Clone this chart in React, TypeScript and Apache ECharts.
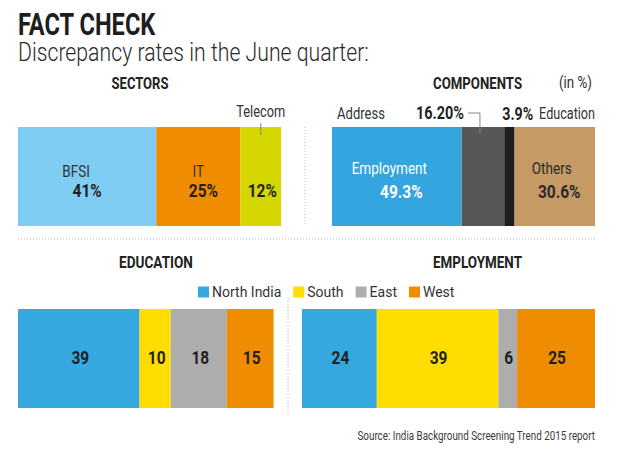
import React, { useEffect, useRef } from 'react';
import * as echarts from 'echarts';

const sectorNames = ['BFSI', 'IT', 'Telecom'];
const sectorValues = [41, 25, 12];
const componentNames = ['Employment', 'Address', 'Education', 'Others'];
const componentValues = [49.3, 16.2, 3.9, 30.6];
const componentLabels = ['49.3%', '16.20%', '3.9%', '30.6%'];
const regionNames = ['North India', 'South', 'East', 'West'];
const educationValues = [39, 10, 18, 15];
const employmentValues = [24, 39, 6, 25];

const sectorColors = ['#7fcdf3', '#f08c00', '#d5d800'];
const componentColors = ['#34a5de', '#575757', '#1e1e1e', '#c59a65'];
const regionColors = ['#35a8e0', '#ffdd00', '#adadad', '#f08c00'];

const FONT = 'Roboto, "Liberation Sans", sans-serif';

export default function App() {
  const ref = useRef<HTMLDivElement>(null);
  useEffect(() => {
    document.body.style.margin = '0';
    const chart = echarts.init(ref.current!, null, { renderer: 'svg' });
    const ctx = document.createElement('canvas').getContext('2d')!;
    const measure = (t: string, size: number, weight: string) => {
      ctx.font = `${weight} ${size}px Roboto`;
      return ctx.measureText(t).width || 1;
    };

    const barH = 99;
    const grids = [
      { left: 18, top: 127, width: 263, height: barH },
      { left: 332, top: 127, width: 263, height: barH },
      { left: 18, top: 309, width: 293, height: barH },
      { left: 302, top: 309, width: 293, height: barH },
    ];
    const maxes = [78, 100, 94, 94];
    const xAxis = grids.map((_, i) => ({ type: 'value', gridIndex: i, min: 0, max: maxes[i], show: false }));
    const yAxis = grids.map((_, i) => ({ type: 'category', gridIndex: i, data: ['x'], show: false }));

    const series: any[] = [];
    sectorNames.forEach((n, i) => {
      series.push({
        type: 'bar', name: n, stack: 'sec', xAxisIndex: 0, yAxisIndex: 0, silent: true,
        barWidth: barH, data: [sectorValues[i]], itemStyle: { color: sectorColors[i] },
      });
    });
    componentNames.forEach((n, i) => {
      series.push({
        type: 'bar', name: n, stack: 'comp', xAxisIndex: 1, yAxisIndex: 1, silent: true,
        barWidth: barH, data: [componentValues[i]], itemStyle: { color: componentColors[i] },
      });
    });
    [educationValues, employmentValues].forEach((vals, g) => {
      regionNames.forEach((n, i) => {
        series.push({
          type: 'bar', name: n, stack: 'reg' + g, xAxisIndex: 2 + g, yAxisIndex: 2 + g, silent: true,
          barWidth: barH, data: [vals[i]], itemStyle: { color: regionColors[i] },
        });
      });
    });

    chart.setOption({
      animation: false,
      grid: grids,
      xAxis, yAxis, series,
      legend: {
        data: regionNames, left: 193, top: 280, itemWidth: 11, itemHeight: 11, itemGap: 12,
        icon: 'rect', selectedMode: false,
        textStyle: { fontSize: 14, fontFamily: FONT, color: '#333', padding: [0, 0, 0, -2] },
      },
    });

    // fitted text: condensed to a target width
    const fit = (text: string, x: number, y: number, size: number, width: number, opts: any = {}) => {
      const weight = opts.bold ? 'bold' : opts.light ? '300' : 'normal';
      return {
        type: 'text', x, y, z: 100, silent: true, scaleX: width / measure(text, size, weight),
        style: {
          text, fontSize: size, fontFamily: FONT, fill: opts.fill || '#222', fontWeight: weight,
          textAlign: opts.align || 'left', textVerticalAlign: 'middle',
        },
      };
    };
    // condensed text by fixed factor
    const cond = (text: string, x: number, y: number, size: number, opts: any = {}) => {
      const weight = opts.bold ? 'bold' : 'normal';
      return {
        type: 'text', x, y, z: 100, silent: true, scaleX: opts.bold ? 0.86 : 0.82,
        style: {
          text, fontSize: size, fontFamily: FONT, fill: opts.fill || '#222', fontWeight: weight,
          textAlign: opts.align || 'center', textVerticalAlign: 'middle',
        },
      };
    };

    const px = (axis: number, v: number) => chart.convertToPixel({ xAxisIndex: axis } as any, v) as number;
    const centers = (axis: number, vals: number[]) => {
      let cum = 0;
      return vals.map((v) => { const c = px(axis, cum + v / 2); cum += v; return c; });
    };
    const secC = centers(0, sectorValues);
    const compC = centers(1, componentValues);
    const eduC = centers(2, educationValues);
    const empC = centers(3, employmentValues);
    const eduStart = px(1, componentValues[0] + componentValues[1]);
    const compEnd = px(1, 100);

    const g: any[] = [];
    // headings
    g.push(fit('FACT CHECK', 18, 24, 31, 138, { bold: true, fill: '#1e1e1e' }));
    g.push(fit('Discrepancy rates in the June quarter:', 18, 52, 26, 351, { light: true, fill: '#2a2a2a' }));
    g.push(fit('SECTORS', 140, 83, 17, 57, { bold: true, align: 'center' }));
    g.push(fit('COMPONENTS', 477.5, 83, 17, 89, { bold: true, align: 'center' }));
    g.push(fit('(in %)', 575.5, 83, 16, 33, { align: 'center', fill: '#333' }));
    g.push(fit('EDUCATION', 156, 262, 17, 74, { bold: true, align: 'center' }));
    g.push(fit('EMPLOYMENT', 477.5, 262, 17, 89, { bold: true, align: 'center' }));
    g.push(fit('Source: India Background Screening Trend 2015 report', 595, 435, 13.5, 238, { align: 'right', fill: '#3a3a3a' }));

    // sector labels
    const secNameDx = [-11, 0, 0];
    const secValDx = [0, 5, 1.5];
    sectorNames.forEach((n, i) => {
      if (i < 2) g.push(cond(n, secC[i] + secNameDx[i], 171.5, 16.5, { fill: '#333' }));
      g.push(cond(`${sectorValues[i]}%`, secC[i] + secValDx[i], 190.5, 18, { bold: true, fill: '#1f1f1f' }));
    });
    g.push(fit('Telecom', secC[2], 111, 16.5, 49, { fill: '#333', align: 'center' }));
    g.push({ type: 'line', z: 100, silent: true, shape: { x1: secC[2], y1: 123, x2: secC[2], y2: 135 }, style: { stroke: '#888', lineWidth: 1 } });

    // component labels
    const compNameDx = [-7.5, 0, 0, -3];
    const compValDx = [4.5, 0, 0, 4.5];
    [0, 3].forEach((i) => {
      const fill = i === 0 ? '#ffffff' : '#2a2a2a';
      g.push(cond(componentNames[i], compC[i] + compNameDx[i], 169, 16.5, { fill }));
      g.push(cond(componentLabels[i], compC[i] + compValDx[i], 191.5, 18, { bold: true, fill }));
    });
    g.push(fit('Address', 337, 113, 16.5, 48, { fill: '#333' }));
    g.push(fit(componentLabels[1], 464, 113.5, 17.5, 48, { bold: true, fill: '#1f1f1f', align: 'right' }));
    const ax = compC[1] - 3;
    g.push({ type: 'polyline', z: 100, silent: true, shape: { points: [[468, 113], [ax, 113], [ax, 133]] }, style: { stroke: '#888', lineWidth: 1, fill: null } });
    g.push(fit(componentLabels[2], eduStart - 2, 113.5, 17.5, 31, { bold: true, fill: '#1f1f1f' }));
    g.push(fit('Education', compEnd, 113, 16.5, 56, { fill: '#333', align: 'right' }));

    // region values
    educationValues.forEach((v, i) => g.push(cond(String(v), eduC[i] + 1.5, 357.5, 18, { bold: true, fill: '#1f1f1f' })));
    employmentValues.forEach((v, i) => g.push(cond(String(v), empC[i] + 1, 357.5, 18, { bold: true, fill: '#1f1f1f' })));

    // dotted separators
    const dotted = { stroke: '#b5b5b5', lineWidth: 1, lineDash: [1, 2] };
    g.push({ type: 'line', z: 100, silent: true, shape: { x1: 305, y1: 127, x2: 305, y2: 225 }, style: dotted });
    g.push({ type: 'line', z: 100, silent: true, shape: { x1: 18, y1: 239, x2: 595, y2: 239 }, style: dotted });
    g.push({ type: 'line', z: 100, silent: true, shape: { x1: 288, y1: 298, x2: 288, y2: 414 }, style: dotted });

    chart.setOption({ graphic: g });
    return () => chart.dispose();
  }, []);
  return <div ref={ref} style={{ position: 'absolute', left: 0, top: 0, width: 625, height: 461, background: '#fff' }} />;
}
